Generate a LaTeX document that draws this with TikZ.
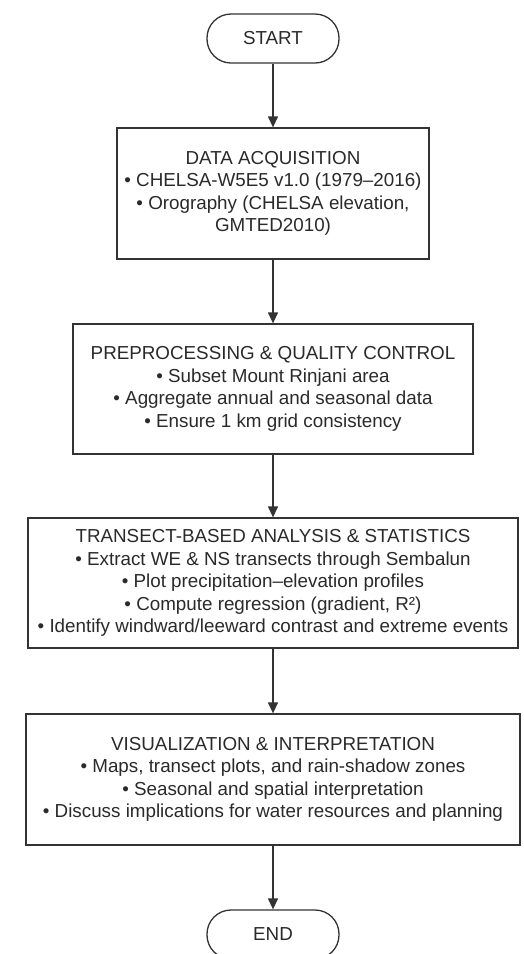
\documentclass[tikz,border=0pt]{standalone}
\usepackage{fontspec}
\setmainfont{Liberation Sans}
\usetikzlibrary{arrows.meta}
\definecolor{ln}{HTML}{333333}
\definecolor{tx}{HTML}{2A2A2A}
\begin{document}
\begin{tikzpicture}[x=1pt,y=-1pt,
  box/.style={draw=ln, line width=1.3pt, fill=white, text=tx, align=center, inner sep=0pt,
              font=\fontsize{18.8}{22.5}\selectfont},
  term/.style={box, rounded corners=24pt, minimum width=132pt, minimum height=49pt},
  arr/.style={draw=ln, line width=1.3pt, -{Triangle[length=11pt,width=10pt]}}]
\useasboundingbox (0,0) rectangle (523,954);
\fill[white] (0,0) rectangle (523,954);
\clip (0,0) rectangle (523,954);
\node[term] (start) at (273,38.5) {START};
\node[box, minimum width=312pt, minimum height=131pt] (acq) at (273,193.5)
  {DATA ACQUISITION\\• CHELSA-W5E5 v1.0 (1979–2016)\\• Orography (CHELSA elevation,\\GMTED2010)};
\node[box, minimum width=400pt, minimum height=130pt] (pre) at (273,389)
  {PREPROCESSING \& QUALITY CONTROL\\• Subset Mount Rinjani area\\• Aggregate annual and seasonal data\\• Ensure 1 km grid consistency};
\node[box, minimum width=490pt, minimum height=130pt] (tra) at (273,583)
  {TRANSECT-BASED ANALYSIS \& STATISTICS\\• Extract WE \& NS transects through Sembalun\\• Plot precipitation–elevation profiles\\• Compute regression (gradient, R²)\\• Identify windward/leeward contrast and extreme events};
\node[box, minimum width=494pt, minimum height=131pt] (vis) at (273,779.5)
  {VISUALIZATION \& INTERPRETATION\\• Maps, transect plots, and rain-shadow zones\\• Seasonal and spatial interpretation\\• Discuss implications for water resources and planning};
\node[term] (end) at (273,934.5) {END};
\draw[arr] (start) -- (acq);
\draw[arr] (acq) -- (pre);
\draw[arr] (pre) -- (tra);
\draw[arr] (tra) -- (vis);
\draw[arr] (vis) -- (end);
\end{tikzpicture}
\end{document}
